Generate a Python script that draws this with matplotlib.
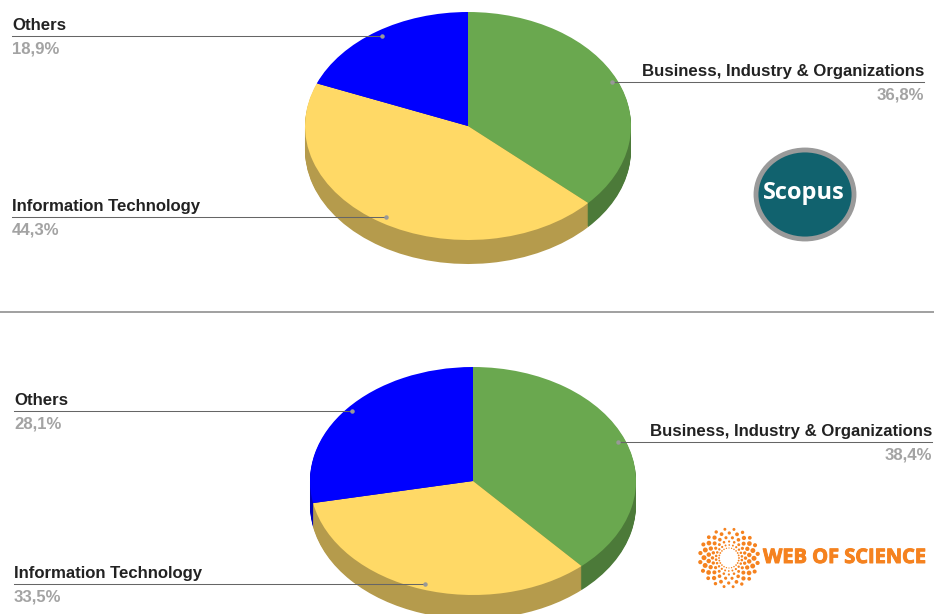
import numpy as np
import matplotlib
matplotlib.use("Agg")
import matplotlib.pyplot as plt
import matplotlib.patheffects as pe
from matplotlib.patches import Ellipse

plt.rcParams['font.family'] = ['Liberation Sans', 'DejaVu Sans']

categories = ["Business, Industry & Organizations", "Information Technology", "Others"]
scopus_values = [36.8, 44.3, 18.9]
wos_values = [38.4, 33.5, 28.1]
scopus_labels = ["36,8%", "44,3%", "18,9%"]
wos_labels = ["38,4%", "33,5%", "28,1%"]

top_colors = ["#6aa84f", "#ffd966", "#0000ff"]
side_colors = ["#4c7a39", "#b59b4c", "#0000b8"]

W, H = 934, 614
fig = plt.figure(figsize=(W / 100, H / 100), dpi=100)


def draw_pie(values, cx, cy, rx=163, ry=114, depth=24):
    # ellipse comes from letting the pie fill a non square axes
    extra = depth / ry
    ax = fig.add_axes([(cx - rx) / W, 1 - (cy + ry + depth) / H,
                       2 * rx / W, (2 * ry + depth) / H], zorder=1)
    for k in range(depth, 0, -1):
        ax.pie(values, colors=side_colors, startangle=90, counterclock=False,
               radius=1, center=(0, -k / ry))
    ax.pie(values, colors=top_colors, startangle=90, counterclock=False, radius=1)
    ax.set_aspect("auto")
    ax.set_xlim(-1, 1)
    ax.set_ylim(-1 - extra, 1)
    ax.axis("off")


draw_pie(scopus_values, 468, 126)
draw_pie(wos_values, 473, 481)

# lines have to lie over the pies, so this one goes on top, in pixel coords
over = fig.add_axes([0, 0, 1, 1], zorder=3)
over.set_xlim(0, W)
over.set_ylim(H, 0)
over.axis("off")
over.patch.set_alpha(0)


def callout(name, pct, x0, x1, y, ha="left"):
    # x0 is the text side, x1 is the end inside the pie
    over.plot([x0, x1], [y, y], color="#666666", lw=0.75, zorder=5)
    over.plot(x1, y, "o", ms=2.2, color="#999999", zorder=6)
    over.text(x0, y - 3, name, ha=ha, va="bottom", fontsize=12.1, fontweight="bold", color="#222222")
    over.text(x0, y + 5.5, pct, ha=ha, va="top", fontsize=12.1, fontweight="bold", color="#a3a3a3")


callout(categories[2], scopus_labels[2], 12, 382, 36)
callout(categories[1], scopus_labels[1], 12, 386, 217)
callout(categories[0], scopus_labels[0], 924, 612, 82, ha="right")
callout(categories[2], wos_labels[2], 14, 352, 411)
callout(categories[1], wos_labels[1], 14, 425, 584)
callout(categories[0], wos_labels[0], 932, 618, 442, ha="right")

# divider
over.plot([0, W], [312, 312], color="#a0a0a0", lw=1.4)

# scopus logo
over.add_patch(Ellipse((805, 194.5), 98, 89, facecolor="#11626e", edgecolor="#9a9a9a", lw=3.5))
over.text(804, 193, "Scopus", color="white", ha="center", va="center",
          fontsize=17, fontweight="bold", family="Open Sans")

# web of science logo, rings of dots
lx, ly = 729, 558
rings = [(10, 24, 0.7), (13, 22, 1.0), (16.5, 20, 1.3), (20.5, 20, 1.7), (25, 20, 1.9), (29, 20, 1.6)]
for i, (r, n, s) in enumerate(rings):
    a = np.linspace(0, 2 * np.pi, n, endpoint=False) + i * 0.16
    big = 1 + 0.55 * np.abs(np.cos(a))
    over.scatter(lx + r * np.cos(a), ly + r * np.sin(a), s=(s * big) ** 2 * 1.5,
                 color="#f5821f", linewidths=0)
over.text(763, 558, "WEB OF SCIENCE", color="#f5821f", ha="left", va="center",
          fontsize=14.4, fontweight="bold", family="Open Sans",
          path_effects=[pe.withStroke(linewidth=0.7, foreground="#f5821f")])

fig.savefig("out.png", dpi=100)
